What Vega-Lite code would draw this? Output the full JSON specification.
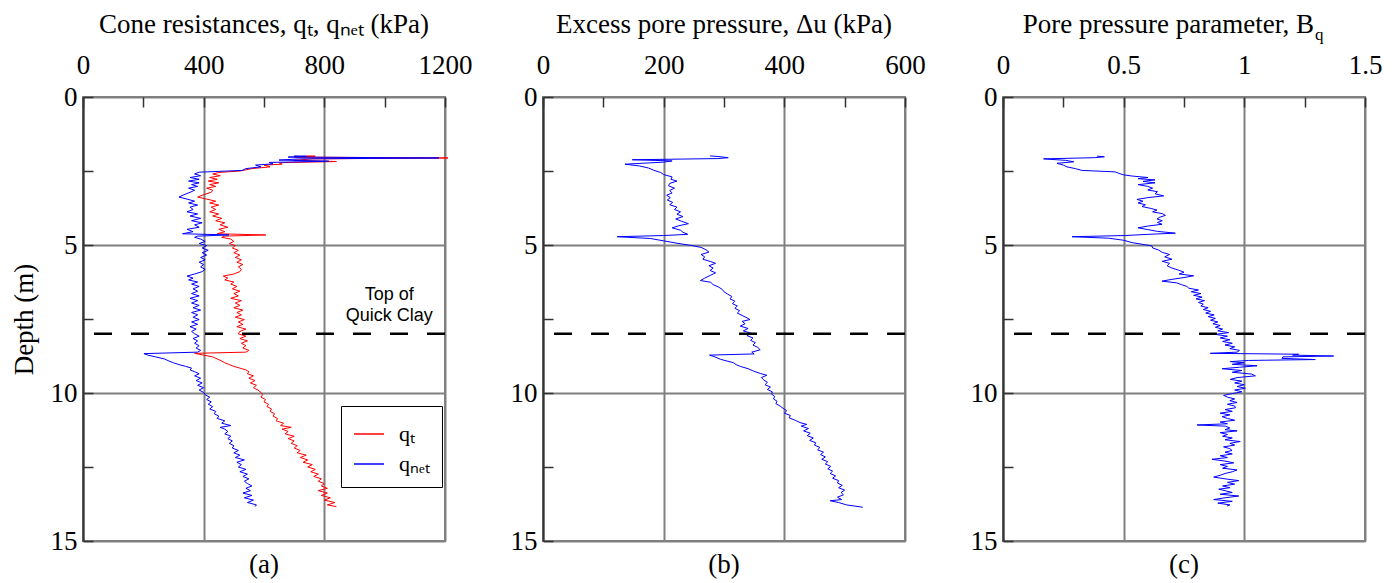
{
"$schema":"https://vega.github.io/schema/vega-lite/v6.json",
"background":"white",
"padding":{"left":9,"top":10,"right":5,"bottom":5},
"spacing":98,
"bounds":"flush",
"config":{
 "view":{"stroke":"#808080","strokeWidth":2},
 "font":"Liberation Serif",
 "axis":{"labelFont":"Liberation Serif","labelFontSize":27,"labelColor":"black","titleFont":"Liberation Serif","titleFontSize":27,"titleFontWeight":"normal","titleColor":"black","tickColor":"#333333","tickWidth":1.5,"gridColor":"#808080","gridWidth":2,"labelFlush":false,"labelOverlap":false},
 "title":{"font":"Liberation Serif","fontSize":27,"fontWeight":"normal","color":"black"}
},
"datasets":{
"a":[
{"d":1.99,"v":740,"s":"qt"},{"d":2.0,"v":770,"s":"qt"},{"d":2.03,"v":700,"s":"qt"},{"d":2.06,"v":1210,"s":"qt"},{"d":2.09,"v":760,"s":"qt"},{"d":2.14,"v":700,"s":"qt"},{"d":2.18,"v":840,"s":"qt"},{"d":2.22,"v":650,"s":"qt"},{"d":2.27,"v":660,"s":"qt"},{"d":2.3,"v":600,"s":"qt"},{"d":2.36,"v":620,"s":"qt"},{"d":2.42,"v":560,"s":"qt"},{"d":2.5,"v":520,"s":"qt"},{"d":2.55,"v":450,"s":"qt"},{"d":2.6,"v":430,"s":"qt"},{"d":2.66,"v":455,"s":"qt"},{"d":2.72,"v":420,"s":"qt"},{"d":2.78,"v":445,"s":"qt"},{"d":2.84,"v":415,"s":"qt"},{"d":2.9,"v":450,"s":"qt"},{"d":2.96,"v":420,"s":"qt"},{"d":3.02,"v":440,"s":"qt"},{"d":3.08,"v":410,"s":"qt"},{"d":3.15,"v":430,"s":"qt"},{"d":3.22,"v":425,"s":"qt"},{"d":3.3,"v":400,"s":"qt"},{"d":3.38,"v":380,"s":"qt"},{"d":3.45,"v":410,"s":"qt"},{"d":3.52,"v":440,"s":"qt"},{"d":3.58,"v":420,"s":"qt"},{"d":3.65,"v":450,"s":"qt"},{"d":3.72,"v":425,"s":"qt"},{"d":3.8,"v":440,"s":"qt"},{"d":3.88,"v":420,"s":"qt"},{"d":3.95,"v":450,"s":"qt"},{"d":4.02,"v":430,"s":"qt"},{"d":4.1,"v":460,"s":"qt"},{"d":4.18,"v":440,"s":"qt"},{"d":4.25,"v":470,"s":"qt"},{"d":4.32,"v":455,"s":"qt"},{"d":4.4,"v":480,"s":"qt"},{"d":4.47,"v":450,"s":"qt"},{"d":4.55,"v":470,"s":"qt"},{"d":4.62,"v":445,"s":"qt"},{"d":4.66,"v":606,"s":"qt"},{"d":4.7,"v":470,"s":"qt"},{"d":4.74,"v":460,"s":"qt"},{"d":4.8,"v":490,"s":"qt"},{"d":4.88,"v":500,"s":"qt"},{"d":4.95,"v":485,"s":"qt"},{"d":5.02,"v":505,"s":"qt"},{"d":5.1,"v":495,"s":"qt"},{"d":5.18,"v":515,"s":"qt"},{"d":5.26,"v":500,"s":"qt"},{"d":5.34,"v":520,"s":"qt"},{"d":5.42,"v":505,"s":"qt"},{"d":5.5,"v":525,"s":"qt"},{"d":5.58,"v":510,"s":"qt"},{"d":5.66,"v":530,"s":"qt"},{"d":5.74,"v":515,"s":"qt"},{"d":5.82,"v":525,"s":"qt"},{"d":5.9,"v":520,"s":"qt"},{"d":5.98,"v":500,"s":"qt"},{"d":6.05,"v":465,"s":"qt"},{"d":6.12,"v":480,"s":"qt"},{"d":6.18,"v":470,"s":"qt"},{"d":6.25,"v":500,"s":"qt"},{"d":6.32,"v":490,"s":"qt"},{"d":6.4,"v":510,"s":"qt"},{"d":6.48,"v":495,"s":"qt"},{"d":6.56,"v":520,"s":"qt"},{"d":6.64,"v":500,"s":"qt"},{"d":6.72,"v":515,"s":"qt"},{"d":6.8,"v":490,"s":"qt"},{"d":6.88,"v":525,"s":"qt"},{"d":6.96,"v":505,"s":"qt"},{"d":7.04,"v":520,"s":"qt"},{"d":7.12,"v":500,"s":"qt"},{"d":7.2,"v":530,"s":"qt"},{"d":7.28,"v":510,"s":"qt"},{"d":7.36,"v":525,"s":"qt"},{"d":7.44,"v":505,"s":"qt"},{"d":7.52,"v":535,"s":"qt"},{"d":7.6,"v":515,"s":"qt"},{"d":7.68,"v":530,"s":"qt"},{"d":7.76,"v":510,"s":"qt"},{"d":7.84,"v":540,"s":"qt"},{"d":7.92,"v":520,"s":"qt"},{"d":8.0,"v":515,"s":"qt"},{"d":8.08,"v":540,"s":"qt"},{"d":8.16,"v":520,"s":"qt"},{"d":8.24,"v":545,"s":"qt"},{"d":8.32,"v":525,"s":"qt"},{"d":8.4,"v":540,"s":"qt"},{"d":8.48,"v":530,"s":"qt"},{"d":8.56,"v":550,"s":"qt"},{"d":8.62,"v":540,"s":"qt"},{"d":8.66,"v":370,"s":"qt"},{"d":8.72,"v":400,"s":"qt"},{"d":8.78,"v":430,"s":"qt"},{"d":8.85,"v":445,"s":"qt"},{"d":8.92,"v":460,"s":"qt"},{"d":8.98,"v":470,"s":"qt"},{"d":9.04,"v":485,"s":"qt"},{"d":9.1,"v":500,"s":"qt"},{"d":9.16,"v":520,"s":"qt"},{"d":9.22,"v":540,"s":"qt"},{"d":9.28,"v":550,"s":"qt"},{"d":9.35,"v":545,"s":"qt"},{"d":9.42,"v":565,"s":"qt"},{"d":9.5,"v":550,"s":"qt"},{"d":9.58,"v":570,"s":"qt"},{"d":9.66,"v":555,"s":"qt"},{"d":9.74,"v":575,"s":"qt"},{"d":9.82,"v":565,"s":"qt"},{"d":9.9,"v":580,"s":"qt"},{"d":9.98,"v":590,"s":"qt"},{"d":10.06,"v":595,"s":"qt"},{"d":10.14,"v":590,"s":"qt"},{"d":10.22,"v":605,"s":"qt"},{"d":10.3,"v":600,"s":"qt"},{"d":10.38,"v":615,"s":"qt"},{"d":10.46,"v":610,"s":"qt"},{"d":10.54,"v":625,"s":"qt"},{"d":10.62,"v":620,"s":"qt"},{"d":10.7,"v":635,"s":"qt"},{"d":10.78,"v":630,"s":"qt"},{"d":10.86,"v":645,"s":"qt"},{"d":10.94,"v":640,"s":"qt"},{"d":11.02,"v":665,"s":"qt"},{"d":11.1,"v":655,"s":"qt"},{"d":11.16,"v":690,"s":"qt"},{"d":11.22,"v":660,"s":"qt"},{"d":11.3,"v":680,"s":"qt"},{"d":11.38,"v":670,"s":"qt"},{"d":11.46,"v":700,"s":"qt"},{"d":11.54,"v":680,"s":"qt"},{"d":11.62,"v":700,"s":"qt"},{"d":11.7,"v":690,"s":"qt"},{"d":11.78,"v":710,"s":"qt"},{"d":11.86,"v":700,"s":"qt"},{"d":11.94,"v":720,"s":"qt"},{"d":12.02,"v":710,"s":"qt"},{"d":12.1,"v":740,"s":"qt"},{"d":12.18,"v":720,"s":"qt"},{"d":12.26,"v":745,"s":"qt"},{"d":12.34,"v":730,"s":"qt"},{"d":12.42,"v":760,"s":"qt"},{"d":12.5,"v":745,"s":"qt"},{"d":12.58,"v":770,"s":"qt"},{"d":12.66,"v":755,"s":"qt"},{"d":12.74,"v":780,"s":"qt"},{"d":12.82,"v":765,"s":"qt"},{"d":12.9,"v":790,"s":"qt"},{"d":12.98,"v":780,"s":"qt"},{"d":13.06,"v":800,"s":"qt"},{"d":13.14,"v":790,"s":"qt"},{"d":13.22,"v":810,"s":"qt"},{"d":13.3,"v":780,"s":"qt"},{"d":13.38,"v":810,"s":"qt"},{"d":13.46,"v":790,"s":"qt"},{"d":13.54,"v":820,"s":"qt"},{"d":13.62,"v":800,"s":"qt"},{"d":13.7,"v":835,"s":"qt"},{"d":13.78,"v":810,"s":"qt"},{"d":13.84,"v":840,"s":"qt"},
{"d":1.99,"v":700,"s":"qnet"},{"d":2.0,"v":740,"s":"qnet"},{"d":2.03,"v":680,"s":"qnet"},{"d":2.06,"v":1180,"s":"qnet"},{"d":2.09,"v":720,"s":"qnet"},{"d":2.13,"v":650,"s":"qnet"},{"d":2.17,"v":815,"s":"qnet"},{"d":2.21,"v":617,"s":"qnet"},{"d":2.26,"v":630,"s":"qnet"},{"d":2.3,"v":572,"s":"qnet"},{"d":2.36,"v":590,"s":"qnet"},{"d":2.42,"v":540,"s":"qnet"},{"d":2.48,"v":528,"s":"qnet"},{"d":2.54,"v":385,"s":"qnet"},{"d":2.6,"v":370,"s":"qnet"},{"d":2.66,"v":390,"s":"qnet"},{"d":2.72,"v":355,"s":"qnet"},{"d":2.78,"v":385,"s":"qnet"},{"d":2.84,"v":350,"s":"qnet"},{"d":2.9,"v":385,"s":"qnet"},{"d":2.96,"v":360,"s":"qnet"},{"d":3.02,"v":380,"s":"qnet"},{"d":3.08,"v":350,"s":"qnet"},{"d":3.15,"v":370,"s":"qnet"},{"d":3.22,"v":355,"s":"qnet"},{"d":3.3,"v":335,"s":"qnet"},{"d":3.38,"v":318,"s":"qnet"},{"d":3.45,"v":345,"s":"qnet"},{"d":3.52,"v":370,"s":"qnet"},{"d":3.58,"v":350,"s":"qnet"},{"d":3.65,"v":380,"s":"qnet"},{"d":3.72,"v":355,"s":"qnet"},{"d":3.8,"v":365,"s":"qnet"},{"d":3.88,"v":345,"s":"qnet"},{"d":3.95,"v":380,"s":"qnet"},{"d":4.02,"v":355,"s":"qnet"},{"d":4.1,"v":390,"s":"qnet"},{"d":4.18,"v":360,"s":"qnet"},{"d":4.25,"v":395,"s":"qnet"},{"d":4.32,"v":370,"s":"qnet"},{"d":4.4,"v":385,"s":"qnet"},{"d":4.47,"v":345,"s":"qnet"},{"d":4.55,"v":365,"s":"qnet"},{"d":4.62,"v":330,"s":"qnet"},{"d":4.66,"v":484,"s":"qnet"},{"d":4.7,"v":380,"s":"qnet"},{"d":4.74,"v":370,"s":"qnet"},{"d":4.8,"v":390,"s":"qnet"},{"d":4.88,"v":405,"s":"qnet"},{"d":4.95,"v":385,"s":"qnet"},{"d":5.02,"v":410,"s":"qnet"},{"d":5.1,"v":395,"s":"qnet"},{"d":5.18,"v":415,"s":"qnet"},{"d":5.26,"v":395,"s":"qnet"},{"d":5.34,"v":410,"s":"qnet"},{"d":5.42,"v":390,"s":"qnet"},{"d":5.5,"v":405,"s":"qnet"},{"d":5.58,"v":385,"s":"qnet"},{"d":5.66,"v":400,"s":"qnet"},{"d":5.74,"v":390,"s":"qnet"},{"d":5.82,"v":405,"s":"qnet"},{"d":5.9,"v":395,"s":"qnet"},{"d":5.98,"v":370,"s":"qnet"},{"d":6.05,"v":345,"s":"qnet"},{"d":6.12,"v":365,"s":"qnet"},{"d":6.18,"v":350,"s":"qnet"},{"d":6.25,"v":380,"s":"qnet"},{"d":6.32,"v":360,"s":"qnet"},{"d":6.4,"v":385,"s":"qnet"},{"d":6.48,"v":365,"s":"qnet"},{"d":6.56,"v":380,"s":"qnet"},{"d":6.64,"v":360,"s":"qnet"},{"d":6.72,"v":385,"s":"qnet"},{"d":6.8,"v":355,"s":"qnet"},{"d":6.88,"v":380,"s":"qnet"},{"d":6.96,"v":360,"s":"qnet"},{"d":7.04,"v":385,"s":"qnet"},{"d":7.12,"v":365,"s":"qnet"},{"d":7.2,"v":390,"s":"qnet"},{"d":7.28,"v":360,"s":"qnet"},{"d":7.36,"v":380,"s":"qnet"},{"d":7.44,"v":365,"s":"qnet"},{"d":7.52,"v":385,"s":"qnet"},{"d":7.6,"v":360,"s":"qnet"},{"d":7.68,"v":380,"s":"qnet"},{"d":7.76,"v":355,"s":"qnet"},{"d":7.84,"v":375,"s":"qnet"},{"d":7.92,"v":360,"s":"qnet"},{"d":8.0,"v":370,"s":"qnet"},{"d":8.08,"v":385,"s":"qnet"},{"d":8.16,"v":365,"s":"qnet"},{"d":8.24,"v":380,"s":"qnet"},{"d":8.32,"v":370,"s":"qnet"},{"d":8.4,"v":385,"s":"qnet"},{"d":8.48,"v":375,"s":"qnet"},{"d":8.56,"v":390,"s":"qnet"},{"d":8.62,"v":380,"s":"qnet"},{"d":8.67,"v":202,"s":"qnet"},{"d":8.72,"v":215,"s":"qnet"},{"d":8.78,"v":241,"s":"qnet"},{"d":8.85,"v":270,"s":"qnet"},{"d":8.92,"v":285,"s":"qnet"},{"d":8.98,"v":300,"s":"qnet"},{"d":9.04,"v":318,"s":"qnet"},{"d":9.1,"v":340,"s":"qnet"},{"d":9.16,"v":360,"s":"qnet"},{"d":9.22,"v":355,"s":"qnet"},{"d":9.28,"v":370,"s":"qnet"},{"d":9.35,"v":385,"s":"qnet"},{"d":9.42,"v":370,"s":"qnet"},{"d":9.5,"v":390,"s":"qnet"},{"d":9.58,"v":375,"s":"qnet"},{"d":9.66,"v":395,"s":"qnet"},{"d":9.74,"v":380,"s":"qnet"},{"d":9.82,"v":400,"s":"qnet"},{"d":9.9,"v":385,"s":"qnet"},{"d":9.98,"v":400,"s":"qnet"},{"d":10.06,"v":405,"s":"qnet"},{"d":10.14,"v":420,"s":"qnet"},{"d":10.22,"v":410,"s":"qnet"},{"d":10.3,"v":425,"s":"qnet"},{"d":10.38,"v":415,"s":"qnet"},{"d":10.46,"v":430,"s":"qnet"},{"d":10.54,"v":420,"s":"qnet"},{"d":10.62,"v":440,"s":"qnet"},{"d":10.7,"v":435,"s":"qnet"},{"d":10.78,"v":450,"s":"qnet"},{"d":10.86,"v":445,"s":"qnet"},{"d":10.94,"v":470,"s":"qnet"},{"d":11.02,"v":460,"s":"qnet"},{"d":11.1,"v":490,"s":"qnet"},{"d":11.16,"v":455,"s":"qnet"},{"d":11.22,"v":470,"s":"qnet"},{"d":11.3,"v":480,"s":"qnet"},{"d":11.38,"v":470,"s":"qnet"},{"d":11.46,"v":490,"s":"qnet"},{"d":11.54,"v":480,"s":"qnet"},{"d":11.62,"v":495,"s":"qnet"},{"d":11.7,"v":485,"s":"qnet"},{"d":11.78,"v":500,"s":"qnet"},{"d":11.86,"v":495,"s":"qnet"},{"d":11.94,"v":515,"s":"qnet"},{"d":12.02,"v":500,"s":"qnet"},{"d":12.1,"v":520,"s":"qnet"},{"d":12.18,"v":505,"s":"qnet"},{"d":12.26,"v":535,"s":"qnet"},{"d":12.34,"v":510,"s":"qnet"},{"d":12.42,"v":525,"s":"qnet"},{"d":12.5,"v":515,"s":"qnet"},{"d":12.58,"v":540,"s":"qnet"},{"d":12.66,"v":520,"s":"qnet"},{"d":12.74,"v":545,"s":"qnet"},{"d":12.82,"v":530,"s":"qnet"},{"d":12.9,"v":550,"s":"qnet"},{"d":12.98,"v":535,"s":"qnet"},{"d":13.06,"v":545,"s":"qnet"},{"d":13.14,"v":560,"s":"qnet"},{"d":13.22,"v":540,"s":"qnet"},{"d":13.3,"v":555,"s":"qnet"},{"d":13.38,"v":530,"s":"qnet"},{"d":13.46,"v":560,"s":"qnet"},{"d":13.54,"v":535,"s":"qnet"},{"d":13.62,"v":565,"s":"qnet"},{"d":13.7,"v":545,"s":"qnet"},{"d":13.78,"v":575,"s":"qnet"},{"d":13.84,"v":570,"s":"qnet"}
],
"b":[
{"d":1.99,"v":277},{"d":2.01,"v":290},{"d":2.05,"v":307},{"d":2.08,"v":290},{"d":2.12,"v":148},{"d":2.16,"v":214},{"d":2.2,"v":200},{"d":2.27,"v":136},{"d":2.33,"v":160},{"d":2.4,"v":175},{"d":2.47,"v":183},{"d":2.55,"v":195},{"d":2.62,"v":200},{"d":2.7,"v":214},{"d":2.78,"v":212},{"d":2.84,"v":222},{"d":2.92,"v":210},{"d":3.0,"v":208},{"d":3.08,"v":218},{"d":3.16,"v":210},{"d":3.24,"v":214},{"d":3.32,"v":205},{"d":3.4,"v":211},{"d":3.48,"v":206},{"d":3.56,"v":215},{"d":3.64,"v":210},{"d":3.72,"v":222},{"d":3.8,"v":218},{"d":3.88,"v":228},{"d":3.96,"v":222},{"d":4.04,"v":232},{"d":4.12,"v":220},{"d":4.2,"v":230},{"d":4.28,"v":241},{"d":4.35,"v":225},{"d":4.42,"v":214},{"d":4.5,"v":228},{"d":4.57,"v":232},{"d":4.64,"v":240},{"d":4.68,"v":200},{"d":4.72,"v":123},{"d":4.78,"v":178},{"d":4.86,"v":200},{"d":4.94,"v":222},{"d":5.01,"v":244},{"d":5.08,"v":262},{"d":5.16,"v":270},{"d":5.24,"v":275},{"d":5.32,"v":262},{"d":5.4,"v":268},{"d":5.48,"v":265},{"d":5.56,"v":278},{"d":5.62,"v":286},{"d":5.7,"v":275},{"d":5.78,"v":282},{"d":5.86,"v":277},{"d":5.94,"v":286},{"d":6.02,"v":278},{"d":6.12,"v":268},{"d":6.2,"v":261},{"d":6.26,"v":278},{"d":6.34,"v":282},{"d":6.42,"v":291},{"d":6.5,"v":297},{"d":6.58,"v":300},{"d":6.66,"v":306},{"d":6.74,"v":313},{"d":6.82,"v":310},{"d":6.9,"v":318},{"d":6.98,"v":314},{"d":7.06,"v":322},{"d":7.14,"v":318},{"d":7.22,"v":326},{"d":7.3,"v":322},{"d":7.38,"v":330},{"d":7.46,"v":338},{"d":7.52,"v":343},{"d":7.58,"v":330},{"d":7.66,"v":335},{"d":7.74,"v":327},{"d":7.82,"v":340},{"d":7.9,"v":332},{"d":7.98,"v":345},{"d":8.06,"v":338},{"d":8.14,"v":348},{"d":8.22,"v":344},{"d":8.3,"v":352},{"d":8.38,"v":348},{"d":8.46,"v":356},{"d":8.54,"v":360},{"d":8.62,"v":346},{"d":8.68,"v":350},{"d":8.72,"v":276},{"d":8.78,"v":285},{"d":8.86,"v":294},{"d":8.92,"v":305},{"d":8.98,"v":316},{"d":9.04,"v":320},{"d":9.1,"v":327},{"d":9.18,"v":340},{"d":9.26,"v":349},{"d":9.34,"v":360},{"d":9.4,"v":371},{"d":9.48,"v":362},{"d":9.56,"v":366},{"d":9.64,"v":372},{"d":9.72,"v":368},{"d":9.8,"v":377},{"d":9.88,"v":372},{"d":9.96,"v":380},{"d":10.04,"v":379},{"d":10.12,"v":384},{"d":10.2,"v":382},{"d":10.28,"v":388},{"d":10.36,"v":386},{"d":10.44,"v":393},{"d":10.52,"v":398},{"d":10.6,"v":404},{"d":10.68,"v":400},{"d":10.76,"v":410},{"d":10.84,"v":408},{"d":10.92,"v":418},{"d":11.0,"v":426},{"d":11.06,"v":437},{"d":11.12,"v":428},{"d":11.2,"v":440},{"d":11.28,"v":432},{"d":11.36,"v":443},{"d":11.44,"v":438},{"d":11.52,"v":448},{"d":11.6,"v":442},{"d":11.68,"v":452},{"d":11.76,"v":450},{"d":11.84,"v":459},{"d":11.92,"v":455},{"d":12.0,"v":465},{"d":12.08,"v":460},{"d":12.16,"v":468},{"d":12.24,"v":462},{"d":12.32,"v":472},{"d":12.4,"v":468},{"d":12.48,"v":477},{"d":12.56,"v":472},{"d":12.64,"v":480},{"d":12.72,"v":476},{"d":12.8,"v":485},{"d":12.88,"v":480},{"d":12.96,"v":490},{"d":13.04,"v":488},{"d":13.12,"v":496},{"d":13.2,"v":490},{"d":13.28,"v":500},{"d":13.36,"v":494},{"d":13.44,"v":498},{"d":13.52,"v":488},{"d":13.6,"v":495},{"d":13.64,"v":476},{"d":13.7,"v":490},{"d":13.78,"v":503},{"d":13.86,"v":530}
],
"c":[
{"d":2.0,"v":0.39},{"d":2.02,"v":0.42},{"d":2.05,"v":0.38},{"d":2.09,"v":0.168},{"d":2.14,"v":0.26},{"d":2.19,"v":0.293},{"d":2.24,"v":0.224},{"d":2.3,"v":0.25},{"d":2.36,"v":0.265},{"d":2.42,"v":0.3},{"d":2.48,"v":0.327},{"d":2.53,"v":0.465},{"d":2.58,"v":0.48},{"d":2.63,"v":0.5},{"d":2.67,"v":0.535},{"d":2.72,"v":0.6},{"d":2.76,"v":0.56},{"d":2.8,"v":0.63},{"d":2.85,"v":0.58},{"d":2.9,"v":0.63},{"d":2.96,"v":0.56},{"d":3.02,"v":0.6},{"d":3.08,"v":0.62},{"d":3.14,"v":0.6},{"d":3.2,"v":0.64},{"d":3.27,"v":0.63},{"d":3.34,"v":0.666},{"d":3.4,"v":0.6},{"d":3.46,"v":0.555},{"d":3.52,"v":0.58},{"d":3.58,"v":0.56},{"d":3.64,"v":0.59},{"d":3.7,"v":0.576},{"d":3.76,"v":0.61},{"d":3.82,"v":0.638},{"d":3.88,"v":0.62},{"d":3.94,"v":0.66},{"d":4.0,"v":0.673},{"d":4.06,"v":0.65},{"d":4.12,"v":0.638},{"d":4.18,"v":0.66},{"d":4.24,"v":0.64},{"d":4.3,"v":0.659},{"d":4.36,"v":0.6},{"d":4.42,"v":0.56},{"d":4.48,"v":0.6},{"d":4.54,"v":0.64},{"d":4.6,"v":0.714},{"d":4.64,"v":0.6},{"d":4.68,"v":0.507},{"d":4.72,"v":0.286},{"d":4.77,"v":0.438},{"d":4.84,"v":0.5},{"d":4.92,"v":0.535},{"d":4.98,"v":0.58},{"d":5.03,"v":0.617},{"d":5.1,"v":0.62},{"d":5.17,"v":0.645},{"d":5.25,"v":0.66},{"d":5.32,"v":0.69},{"d":5.4,"v":0.67},{"d":5.48,"v":0.7},{"d":5.55,"v":0.66},{"d":5.62,"v":0.69},{"d":5.7,"v":0.68},{"d":5.78,"v":0.7},{"d":5.85,"v":0.728},{"d":5.92,"v":0.75},{"d":5.98,"v":0.73},{"d":6.04,"v":0.79},{"d":6.1,"v":0.75},{"d":6.16,"v":0.7},{"d":6.22,"v":0.659},{"d":6.28,"v":0.72},{"d":6.34,"v":0.74},{"d":6.4,"v":0.762},{"d":6.46,"v":0.77},{"d":6.52,"v":0.81},{"d":6.58,"v":0.78},{"d":6.64,"v":0.82},{"d":6.7,"v":0.79},{"d":6.76,"v":0.825},{"d":6.82,"v":0.8},{"d":6.88,"v":0.835},{"d":6.94,"v":0.81},{"d":7.0,"v":0.83},{"d":7.06,"v":0.82},{"d":7.12,"v":0.85},{"d":7.18,"v":0.83},{"d":7.24,"v":0.86},{"d":7.3,"v":0.84},{"d":7.36,"v":0.875},{"d":7.42,"v":0.85},{"d":7.48,"v":0.88},{"d":7.54,"v":0.86},{"d":7.6,"v":0.89},{"d":7.66,"v":0.87},{"d":7.72,"v":0.9},{"d":7.78,"v":0.88},{"d":7.84,"v":0.91},{"d":7.9,"v":0.89},{"d":7.96,"v":0.935},{"d":8.02,"v":0.88},{"d":8.08,"v":0.93},{"d":8.14,"v":0.9},{"d":8.2,"v":0.94},{"d":8.26,"v":0.91},{"d":8.32,"v":0.95},{"d":8.38,"v":0.92},{"d":8.44,"v":0.96},{"d":8.5,"v":0.94},{"d":8.56,"v":0.98},{"d":8.62,"v":0.97},{"d":8.66,"v":0.859},{"d":8.69,"v":1.225},{"d":8.72,"v":1.2},{"d":8.75,"v":1.37},{"d":8.78,"v":1.16},{"d":8.83,"v":1.156},{"d":8.87,"v":1.294},{"d":8.9,"v":1.018},{"d":8.94,"v":0.942},{"d":8.98,"v":1.0},{"d":9.03,"v":0.95},{"d":9.08,"v":1.053},{"d":9.13,"v":0.98},{"d":9.18,"v":0.908},{"d":9.24,"v":0.99},{"d":9.3,"v":0.95},{"d":9.36,"v":1.03},{"d":9.42,"v":1.046},{"d":9.48,"v":0.97},{"d":9.54,"v":0.942},{"d":9.6,"v":0.99},{"d":9.66,"v":0.96},{"d":9.72,"v":1.0},{"d":9.78,"v":0.97},{"d":9.84,"v":1.004},{"d":9.9,"v":0.96},{"d":9.96,"v":0.99},{"d":10.02,"v":0.95},{"d":10.08,"v":0.914},{"d":10.14,"v":0.93},{"d":10.2,"v":0.96},{"d":10.26,"v":0.94},{"d":10.32,"v":0.97},{"d":10.38,"v":0.93},{"d":10.44,"v":0.96},{"d":10.5,"v":0.963},{"d":10.56,"v":0.92},{"d":10.62,"v":0.95},{"d":10.68,"v":0.9},{"d":10.74,"v":0.94},{"d":10.8,"v":0.908},{"d":10.86,"v":0.93},{"d":10.92,"v":0.96},{"d":10.98,"v":0.9},{"d":11.04,"v":0.93},{"d":11.08,"v":0.804},{"d":11.12,"v":0.921},{"d":11.18,"v":0.94},{"d":11.24,"v":0.92},{"d":11.28,"v":0.97},{"d":11.34,"v":0.9},{"d":11.4,"v":0.93},{"d":11.46,"v":0.91},{"d":11.52,"v":0.95},{"d":11.58,"v":0.92},{"d":11.64,"v":0.983},{"d":11.7,"v":0.94},{"d":11.76,"v":0.96},{"d":11.82,"v":0.914},{"d":11.88,"v":0.94},{"d":11.94,"v":0.949},{"d":12.0,"v":0.92},{"d":12.06,"v":0.95},{"d":12.12,"v":0.9},{"d":12.18,"v":0.93},{"d":12.24,"v":0.866},{"d":12.3,"v":0.92},{"d":12.36,"v":0.956},{"d":12.42,"v":0.9},{"d":12.48,"v":0.93},{"d":12.54,"v":0.91},{"d":12.6,"v":0.97},{"d":12.66,"v":0.95},{"d":12.72,"v":0.92},{"d":12.78,"v":0.9},{"d":12.84,"v":0.873},{"d":12.9,"v":0.92},{"d":12.96,"v":0.977},{"d":13.02,"v":0.93},{"d":13.08,"v":0.96},{"d":13.14,"v":0.91},{"d":13.2,"v":0.94},{"d":13.25,"v":0.894},{"d":13.3,"v":0.92},{"d":13.36,"v":0.95},{"d":13.42,"v":0.9},{"d":13.48,"v":0.977},{"d":13.54,"v":0.92},{"d":13.6,"v":0.873},{"d":13.66,"v":0.95},{"d":13.72,"v":0.89},{"d":13.78,"v":0.94},{"d":13.82,"v":0.928}
]
},
"hconcat":[
{
 "width":362,"height":444,
 "title":{"text":"(a)","orient":"bottom","offset":-2},
 "layer":[
  {"data":{"name":"a"},
   "mark":{"type":"line","strokeWidth":1,"clip":false},
   "encoding":{
    "x":{"field":"v","type":"quantitative","scale":{"domain":[0,1200],"nice":false,"zero":false},
         "axis":{"orient":"top","values":[0,200,400,600,800,1000,1200],"format":"d","labelExpr":"datum.value % 400 === 0 ? datum.label : ''","grid":true,"gridOpacity":{"condition":{"test":"datum.value % 400 !== 0","value":0},"value":1},"tickSize":-10,"labelPadding":28,"domain":false,"title":null}},
    "y":{"field":"d","type":"quantitative","scale":{"domain":[0,15],"reverse":true,"nice":false,"zero":false},
         "axis":{"orient":"left","values":[0,2.5,5,7.5,10,12.5,15],"format":"~g","labelExpr":"datum.value % 5 === 0 ? datum.label : ''","grid":true,"gridOpacity":{"condition":{"test":"datum.value % 5 !== 0","value":0},"value":1},"tickSize":-10,"labelPadding":16,"domainColor":"#333333","domainWidth":2,"title":"Depth (m)","titlePadding":12}},
    "color":{"field":"s","type":"nominal","scale":{"domain":["qt","qnet"],"range":["#ff0000","#0000ff"]},
       "legend":{"title":null,"orient":"none","legendX":258,"legendY":309,"direction":"vertical","strokeColor":"black","fillColor":"white","padding":12,"symbolType":"stroke","symbolSize":900,"symbolStrokeWidth":1.5,"labelFont":"Liberation Serif","labelFontSize":22,"labelOffset":14,"rowPadding":3,"labelColor":"black","labelExpr":"datum.value === 'qt' ? 'qₜ' : 'qₙₑₜ'"}},
    "order":{"field":"d","type":"quantitative"}
   }},
  {"data":{"values":[{}]},"mark":{"type":"rule","color":"black","strokeWidth":2.5,"strokeDash":[18,19]},"encoding":{"y":{"datum":8}}},
  {"data":{"values":[{}]},"mark":{"type":"text","font":"Liberation Sans","fontSize":18,"lineHeight":21,"align":"center","baseline":"middle","color":"black"},"encoding":{"x":{"datum":1015},"y":{"datum":6.7},"text":{"value":["Top of","Quick Clay"]}}},
  {"data":{"values":[{}]},"mark":{"type":"text","font":"Liberation Serif","fontSize":27,"align":"center","baseline":"alphabetic","color":"black"},"encoding":{"x":{"datum":600},"y":{"datum":-2.162},"text":{"value":"Cone resistances, qₜ, qₙₑₜ (kPa)"}}}
 ]
},
{
 "width":362,"height":444,
 "title":{"text":"(b)","orient":"bottom","offset":-2},
 "layer":[
  {"data":{"name":"b"},
   "mark":{"type":"line","strokeWidth":1,"color":"#0000ff","clip":false},
   "encoding":{
    "x":{"field":"v","type":"quantitative","scale":{"domain":[0,600],"nice":false,"zero":false},
         "axis":{"orient":"top","values":[0,100,200,300,400,500,600],"format":"d","labelExpr":"datum.value % 200 === 0 ? datum.label : ''","grid":true,"gridOpacity":{"condition":{"test":"datum.value % 200 !== 0","value":0},"value":1},"tickSize":-10,"labelPadding":28,"domain":false,"title":null}},
    "y":{"field":"d","type":"quantitative","scale":{"domain":[0,15],"reverse":true,"nice":false,"zero":false},
         "axis":{"orient":"left","values":[0,2.5,5,7.5,10,12.5,15],"format":"~g","labelExpr":"datum.value % 5 === 0 ? datum.label : ''","grid":true,"gridOpacity":{"condition":{"test":"datum.value % 5 !== 0","value":0},"value":1},"tickSize":-10,"labelPadding":16,"domainColor":"#333333","domainWidth":2,"title":null}},
    "order":{"field":"d","type":"quantitative"}
   }},
  {"data":{"values":[{}]},"mark":{"type":"rule","color":"black","strokeWidth":2.5,"strokeDash":[18,19]},"encoding":{"y":{"datum":8}}},
  {"data":{"values":[{}]},"mark":{"type":"text","font":"Liberation Serif","fontSize":27,"align":"center","baseline":"alphabetic","color":"black"},"encoding":{"x":{"datum":300},"y":{"datum":-2.162},"text":{"value":"Excess pore pressure, Δu (kPa)"}}}
 ]
},
{
 "width":362,"height":444,
 "title":{"text":"(c)","orient":"bottom","offset":-2},
 "layer":[
  {"data":{"name":"c"},
   "mark":{"type":"line","strokeWidth":1,"color":"#0000ff","clip":false},
   "encoding":{
    "x":{"field":"v","type":"quantitative","scale":{"domain":[0,1.5],"nice":false,"zero":false},
         "axis":{"orient":"top","values":[0,0.25,0.5,0.75,1,1.25,1.5],"format":"~g","labelExpr":"datum.value % 0.5 === 0 ? datum.label : ''","grid":true,"gridOpacity":{"condition":{"test":"datum.value % 0.5 !== 0","value":0},"value":1},"tickSize":-10,"labelPadding":28,"domain":false,"title":null}},
    "y":{"field":"d","type":"quantitative","scale":{"domain":[0,15],"reverse":true,"nice":false,"zero":false},
         "axis":{"orient":"left","values":[0,2.5,5,7.5,10,12.5,15],"format":"~g","labelExpr":"datum.value % 5 === 0 ? datum.label : ''","grid":true,"gridOpacity":{"condition":{"test":"datum.value % 5 !== 0","value":0},"value":1},"tickSize":-10,"labelPadding":16,"domainColor":"#333333","domainWidth":2,"title":null}},
    "order":{"field":"d","type":"quantitative"}
   }},
  {"data":{"values":[{}]},"mark":{"type":"rule","color":"black","strokeWidth":2.5,"strokeDash":[18,19]},"encoding":{"y":{"datum":8}}},
  {"data":{"values":[{}]},"mark":{"type":"text","font":"Liberation Serif","fontSize":27,"align":"right","baseline":"alphabetic","color":"black"},"encoding":{"x":{"datum":1.289},"y":{"datum":-2.162},"text":{"value":"Pore pressure parameter, B"}}},
  {"data":{"values":[{}]},"mark":{"type":"text","font":"Liberation Serif","fontSize":17,"align":"left","baseline":"alphabetic","color":"black","dx":1},"encoding":{"x":{"datum":1.289},"y":{"datum":-1.91},"text":{"value":"q"}}}
 ]
}
]
}
